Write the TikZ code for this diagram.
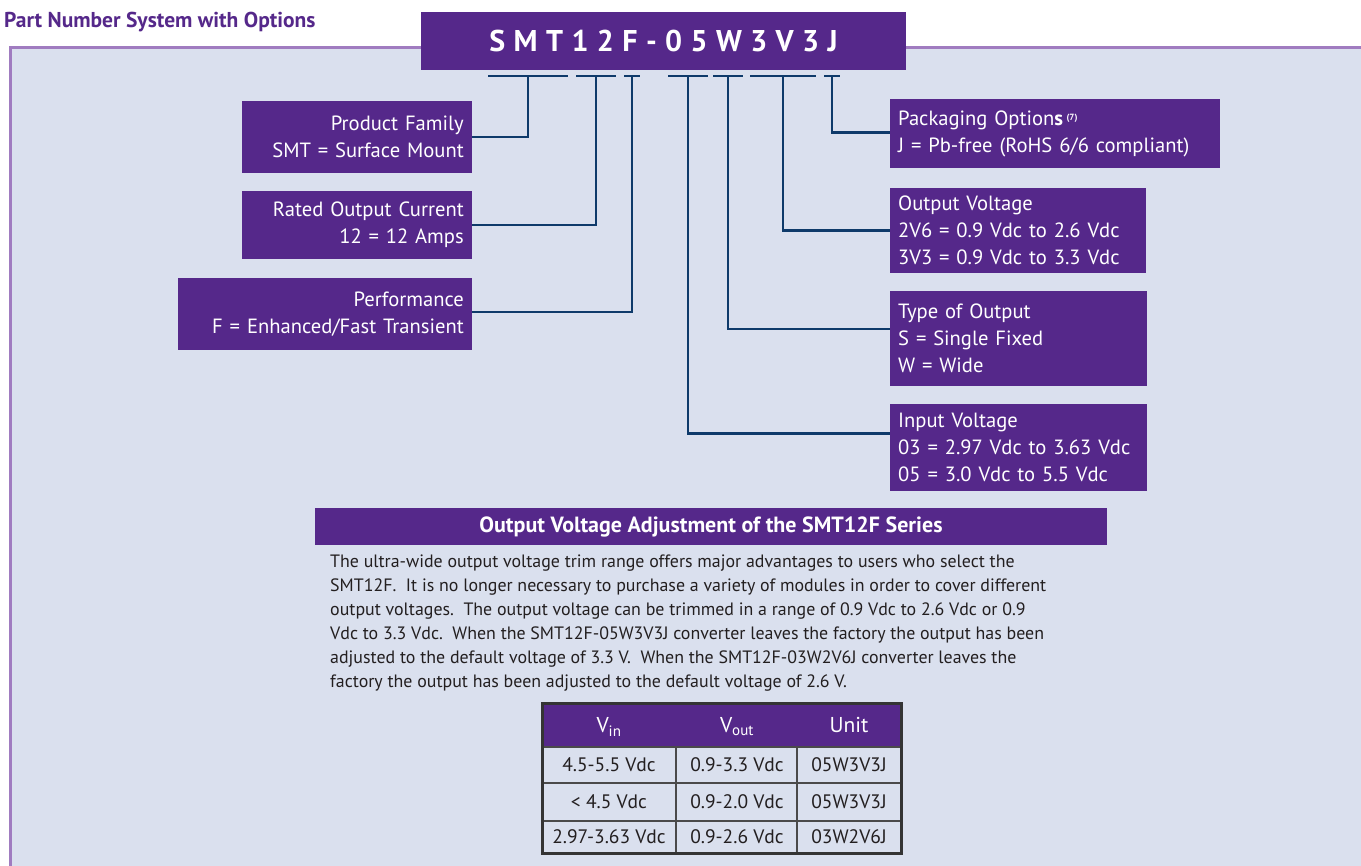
\documentclass[tikz,border=0pt]{standalone}
\usepackage{fontspec}
\setmainfont{PT Sans}
\usetikzlibrary{positioning}
\definecolor{pnpurple}{HTML}{55288A}
\definecolor{pnback}{HTML}{DAE0EE}
\definecolor{pnframe}{HTML}{A07CC0}
\definecolor{pnline}{HTML}{0E3A6A}
\definecolor{pntext}{HTML}{231F20}
\definecolor{pngrid}{HTML}{4A4A4A}
\tikzset{
  partbox/.style={fill=pnpurple, text=white, inner xsep=8pt, inner ysep=0pt,
    font=\fontsize{20.6}{26.8}\selectfont},
  leftbox/.style={partbox, align=right, anchor=east},
  rightbox/.style={partbox, align=left, anchor=west},
  lead/.style={draw=pnline, line width=2.5pt},
  cell/.style={inner sep=0pt, text=pntext, font=\fontsize{19.5}{22}\selectfont},
}
\begin{document}
\begin{tikzpicture}[x=1pt,y=-1pt]

  \clip (0,0) rectangle (1361,866);
  \fill[white] (0,0) rectangle (1361,866);
  \draw[pnframe, line width=3pt, fill=pnback] (10,48) rectangle (1380,890);

  \node[anchor=west, inner sep=0pt, text=pnpurple,
    font=\fontsize{21.5}{24}\selectfont\bfseries] (title) at (4,22) {Part Number System with Options};

  \node[partbox, minimum width=485pt, minimum height=58pt,
    font=\fontsize{30}{34}\selectfont\bfseries\addfontfeatures{LetterSpace=28}] (part) at (663.5,41) {SMT12F-05W3V3J};

  % left side
  \node[leftbox, text width=214pt, minimum height=72pt] (family) at (472,137) {Product Family\\SMT = Surface Mount};
  \node[leftbox, text width=214pt, minimum height=68pt] (current) at (472,225) {Rated Output Current\\12 = 12 Amps};
  \node[leftbox, text width=278pt, minimum height=72pt] (perf) at (472,314) {Performance\\F = Enhanced/Fast Transient};

  % right side
  \node[rightbox, text width=314pt, minimum height=69pt] (pack) at (890,134)
    {Packaging Option\textbf{s}\,\raisebox{5pt}{\fontsize{9}{9}\selectfont\bfseries(7)}\\J = Pb-free (RoHS 6/6 compliant)};
  \node[rightbox, text width=240pt, minimum height=85pt] (vout) at (890,230.5)
    {Output Voltage\\2V6 = 0.9 Vdc to 2.6 Vdc\\3V3 = 0.9 Vdc to 3.3 Vdc};
  \node[rightbox, text width=241pt, minimum height=95pt] (otype) at (890,338.5)
    {Type of Output\\S = Single Fixed\\W = Wide};
  \node[rightbox, text width=241pt, minimum height=87pt] (vin) at (890,447.5)
    {Input Voltage\\03 = 2.97 Vdc to 3.63 Vdc\\05 = 3.0 Vdc to 5.5 Vdc};

  \foreach \i/\x/\h/\to/\dy in {1/528/40/family.east/0, 2/596/20/current.east/0, 3/632/8/perf.east/2,
      4/688/20/vin.west/14, 5/728/15/otype.west/9.5, 6/783/33/vout.west/0, 7/832/8/pack.west/1.5} {
    \coordinate (tick\i) at (\x,76);
    \draw[lead] ([xshift=-\h pt]tick\i) -- ([xshift=\h pt]tick\i);
    \draw[lead] (tick\i) |- ([yshift=\dy pt]\to);
  }

  % trim range text
  \node[partbox, minimum width=792pt, minimum height=37pt,
    font=\fontsize{22}{24}\selectfont\bfseries] (adjust) at (711,526.5) {Output Voltage Adjustment of the SMT12F Series};

  \node[anchor=north west, inner sep=0pt, align=left, text=pntext,
    font=\fontsize{17.9}{24}\selectfont] (trim) at (330,555) {%
    The ultra-wide output voltage trim range offers major advantages to users who select the\\
    SMT12F.\ \ It is no longer necessary to purchase a variety of modules in order to cover different\\
    output voltages.\ \ The output voltage can be trimmed in a range of 0.9 Vdc to 2.6 Vdc or 0.9\\
    Vdc to 3.3 Vdc.\ \ When the SMT12F-05W3V3J converter leaves the factory the output has been\\
    adjusted to the default voltage of 3.3 V.\ \ When the SMT12F-03W2V6J converter leaves the\\
    factory the output has been adjusted to the default voltage of 2.6 V.};

  % table
  \fill[pnpurple] (542,703) rectangle (901,747);
  \draw[pngrid, line width=1.5pt] (542,747) -- (901,747) (542,783) -- (901,783) (542,821) -- (901,821)
    (676,747) -- (676,853) (797,747) -- (797,853);
  \draw[pngrid!70!black, line width=3pt] (542,703) rectangle (901,853);

  \begin{scope}[every node/.style={cell}]
    \node[text=white, font=\fontsize{21.5}{24}\selectfont] (hin) at (609,727) {V\textsubscript{in}};
    \node[text=white, font=\fontsize{21.5}{24}\selectfont] (hout) at (737,727) {V\textsubscript{out}};
    \node[text=white, font=\fontsize{21.5}{24}\selectfont] (hunit) at (849,725) {Unit};
    \node (ra) at (609,765) {4.5-5.5 Vdc};
    \node (rb) at (609,802) {< 4.5 Vdc};
    \node (rc) at (609,837) {2.97-3.63 Vdc};
    \node (sa) at (737,765) {0.9-3.3 Vdc};
    \node (sb) at (737,802) {0.9-2.0 Vdc};
    \node (sc) at (737,837) {0.9-2.6 Vdc};
    \node (ua) at (849,765) {05W3V3J};
    \node (ub) at (849,802) {05W3V3J};
    \node (uc) at (849,837) {03W2V6J};
  \end{scope}

\end{tikzpicture}
\end{document}
